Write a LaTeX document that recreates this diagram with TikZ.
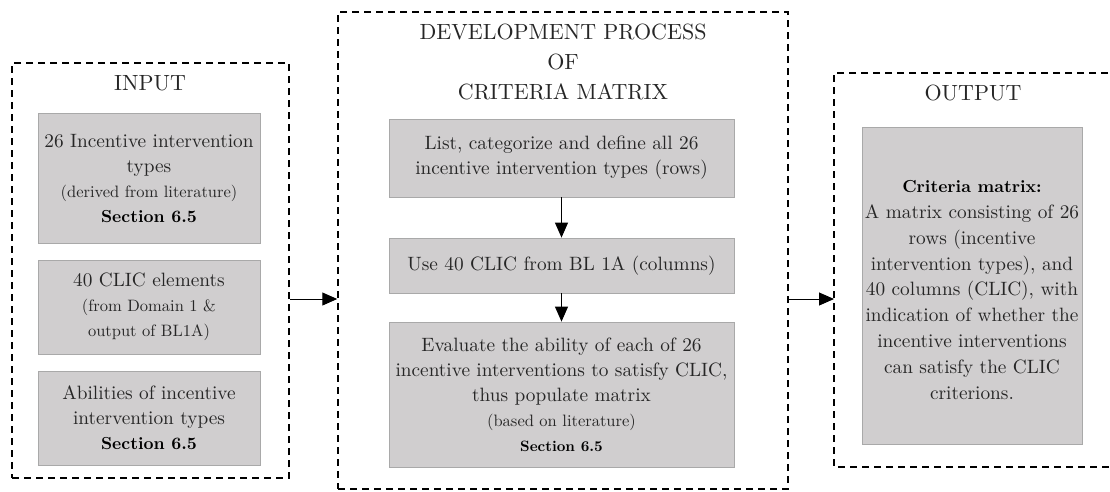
\documentclass[tikz,border=0pt]{standalone}
\usepackage{fontspec}
\setmainfont{lmroman10-regular.otf}[BoldFont=lmroman10-bold.otf]
\usetikzlibrary{arrows.meta}
\definecolor{boxfill}{HTML}{D0CECF}
\definecolor{boxline}{HTML}{A9A9A9}
\definecolor{txt}{HTML}{262626}
\newcommand{\mainsz}{\fontsize{19.3}{25}\selectfont}
\newcommand{\smallsz}{\fontsize{16.5}{23}\selectfont}
\newcommand{\titlesz}{\fontsize{22}{30}\selectfont}
\newcommand{\secref}[2][17.4]{{\color{black}\bfseries\fontsize{#1}{23}\selectfont #2}}
\begin{document}
\begin{tikzpicture}[x=1pt,y=-1pt,
  frame/.style={draw=black, line width=1.5pt, dash pattern=on 7pt off 5pt},
  graybox/.style={draw=boxline, line width=0.8pt, fill=boxfill, text=txt,
    align=center, inner sep=0pt, font=\mainsz},
  title/.style={text=txt, align=center, font=\titlesz},
  link/.style={line width=1pt, -{Triangle[length=15pt,width=13pt]}}]
\useasboundingbox (0,0) rectangle (1110,491);

% dashed frames; the output frame runs off the right edge
\node[frame, minimum width=277pt, minimum height=415pt] (inframe) at (150.5,270.5) {};
\node[frame, minimum width=450pt, minimum height=477pt] (devframe) at (563,250.5) {};
\coordinate (outframe) at (834,73);
\draw[frame] (1120,73) -- (outframe) -- (834,467) -- (1120,467);

% frame headings
\node[title] (intitle) at (150,83) {INPUT};
\node[title] (devtitle) at (563,62) {DEVELOPMENT PROCESS\\OF\\CRITERIA MATRIX};
\node[title] (outtitle) at (973,93) {OUTPUT};

% input boxes
\node[graybox, minimum width=222pt, minimum height=130pt] (inc) at (149,178)
  {26 Incentive intervention\\types\\{\smallsz (derived from literature)}\\\secref{Section 6.5}};
\node[graybox, minimum width=222pt, minimum height=94pt] (clic) at (149,307)
  {40 CLIC elements\\{\smallsz (from Domain 1 \&}\\{\smallsz output of BL1A)}};
\node[graybox, minimum width=222pt, minimum height=94pt] (abil) at (149,418)
  {Abilities of incentive\\intervention types\\\secref{Section 6.5}};

% development steps
\node[graybox, minimum width=345pt, minimum height=78pt] (list) at (561.5,158)
  {List, categorize and define all 26\\incentive intervention types (rows)};
\node[graybox, minimum width=345pt, minimum height=55pt] (use) at (561.5,265.5)
  {Use 40 CLIC from BL 1A (columns)};
\node[graybox, minimum width=345pt, minimum height=145pt] (eval) at (561.5,394.5)
  {Evaluate the ability of each of 26\\incentive interventions to satisfy CLIC,\\thus populate matrix\\{\smallsz (based on literature)}\\\secref[15]{Section 6.5}};

% output box, its text sitting a little below centre
\node[graybox, minimum width=220pt, minimum height=317pt] (matrix) at (972,285.5) {};
\node[text=txt, align=center, inner sep=0pt,
      font=\fontsize{19.3}{25.8}\selectfont] (matrixtext) at ([yshift=-4.5pt]matrix.center)
  {\secref{Criteria matrix:}\\A matrix consisting of 26\\rows (incentive\\intervention types), and\\40 columns (CLIC), with\\indication of whether the\\incentive interventions\\can satisfy the CLIC\\criterions.};

% connectors
\coordinate (row) at (0,299);
\draw[link] (inframe.east |- row) -- (devframe.west |- row);
\draw[link] (devframe.east |- row) -- (outframe |- row);
\draw[link] (list.south) -- (use.north);
\draw[link] (use.south) -- (eval.north);
\end{tikzpicture}
\end{document}
